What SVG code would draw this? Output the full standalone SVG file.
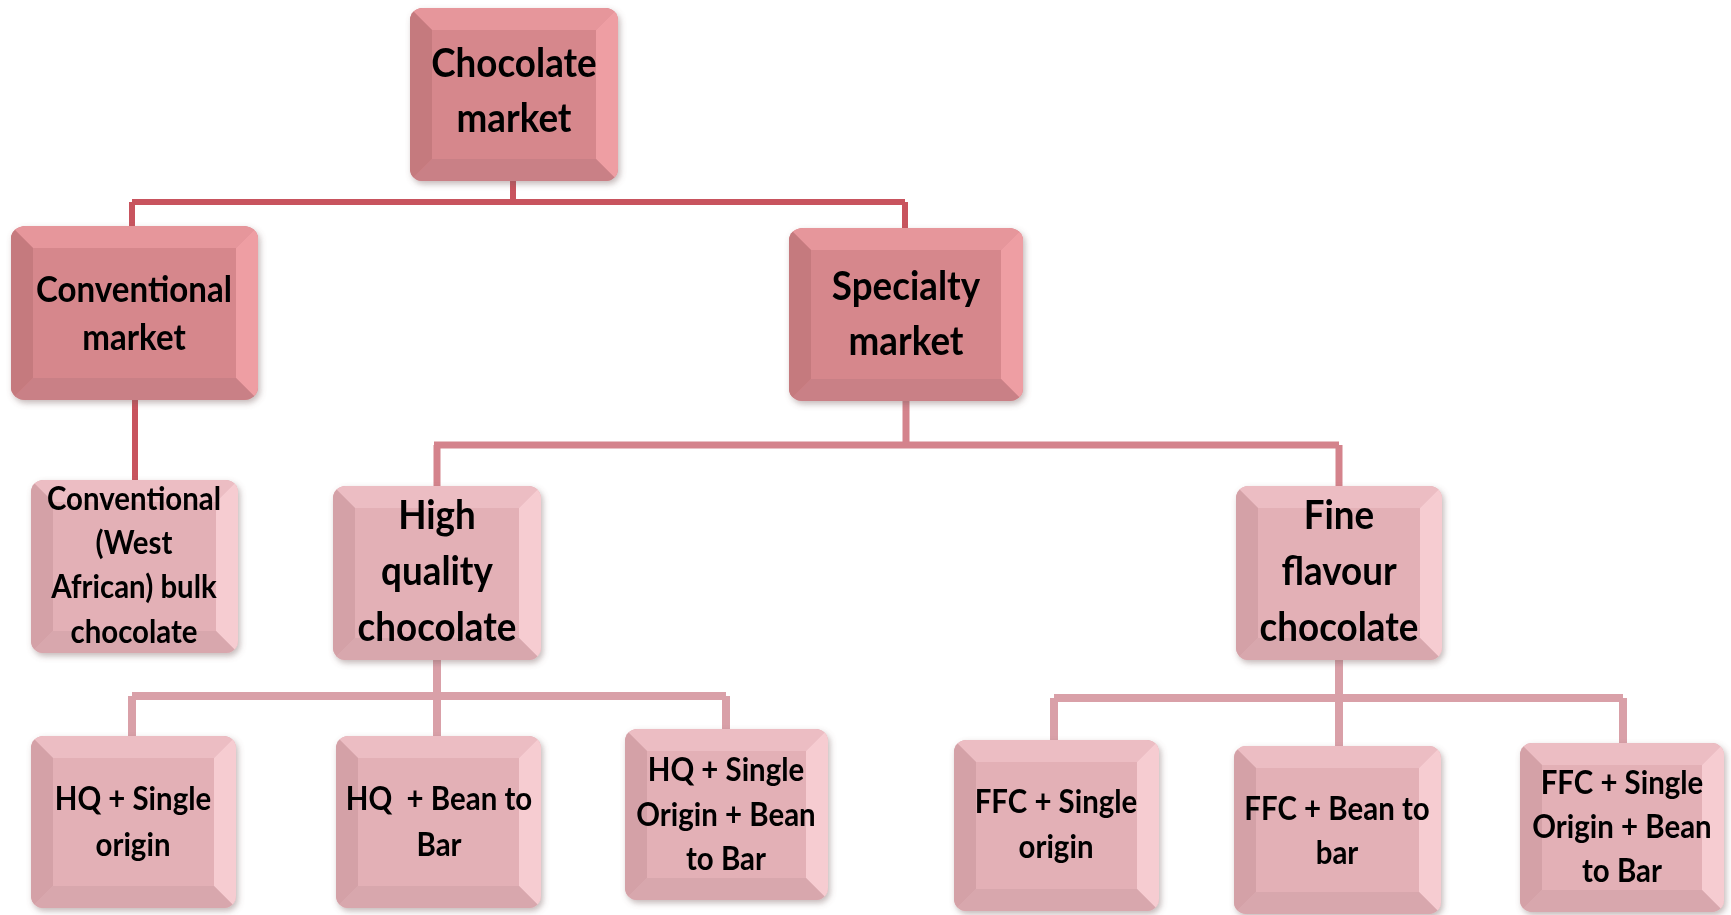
<svg xmlns="http://www.w3.org/2000/svg" width="1731" height="915" viewBox="0 0 1731 915">
<style>
.txt{font-family:Lato,"Liberation Sans",sans-serif;font-weight:bold;fill:#000;text-anchor:middle;transform-box:fill-box;transform-origin:center;transform:scaleX(0.92)}
.f40{font-size:40px}.f36{font-size:36px}.f32{font-size:32px}
.c1{stroke:#c8545e;stroke-width:6;fill:none}
.c2{stroke:#d4838c;stroke-width:7;fill:none}
.c3{stroke:#d9a0a8;stroke-width:8;fill:none}
.r .main{fill:#d6878c}.r .lt{fill:#e6969b}.r .rt{fill:#ee9ea3}.r .dk{fill:#c57a7e}.r .bt{fill:#c98086}
.p .main{fill:#e3b0b6}.p .lt{fill:#ecbdc3}.p .rt{fill:#f6ccd1}.p .dk{fill:#d4a1a7}.p .bt{fill:#d8a7ad}
.node{filter:url(#sh)}
</style>
<defs>
<clipPath id="rc" clipPathUnits="objectBoundingBox"><rect width="1" height="1" rx="0.06" ry="0.07"/></clipPath>
<filter id="sh" x="-10%" y="-10%" width="125%" height="125%"><feDropShadow dx="2" dy="3" stdDeviation="3" flood-color="#7a6060" flood-opacity="0.45"/></filter>
</defs>
<rect width="1731" height="915" fill="#fff"/>
<g id="connectors">
<path class="c1" d="M513 181V202M132 202H905M132 202V226M905 202V228"/>
<path class="c1" d="M135 400V480"/>
<path class="c2" d="M906 401V445M434 445H1339M437 445V486M1339 445V486"/>
<path class="c3" d="M437 660V696M132 696H726M132 696V736M437 696V736M726 696V729"/>
<path class="c3" d="M1339 660V698M1054 698H1623M1054 698V740M1339 698V746M1623 698V743"/>
</g>
<g id="n-chocolate" class="node r"><g clip-path="url(#rc)">
<rect class="main" x="410" y="8" width="208" height="173"/>
<polygon class="lt" points="410,8 618,8 596,30 432,30"/>
<polygon class="rt" points="618,8 618,181 596,159 596,30"/>
<polygon class="bt" points="410,181 618,181 596,159 432,159"/>
<polygon class="dk" points="410,8 410,181 432,159 432,30"/>
</g>
<text class="txt f40" x="514" y="77">Chocolate</text><text class="txt f40" x="514" y="132">market</text></g>
<g id="n-conventional" class="node r"><g clip-path="url(#rc)">
<rect class="main" x="11" y="226" width="247" height="174"/>
<polygon class="lt" points="11,226 258,226 236,248 33,248"/>
<polygon class="rt" points="258,226 258,400 236,378 236,248"/>
<polygon class="bt" points="11,400 258,400 236,378 33,378"/>
<polygon class="dk" points="11,226 11,400 33,378 33,248"/>
</g>
<text class="txt f36" x="134" y="302">Conventional</text><text class="txt f36" x="134" y="350">market</text></g>
<g id="n-specialty" class="node r"><g clip-path="url(#rc)">
<rect class="main" x="789" y="228" width="234" height="173"/>
<polygon class="lt" points="789,228 1023,228 1001,250 811,250"/>
<polygon class="rt" points="1023,228 1023,401 1001,379 1001,250"/>
<polygon class="bt" points="789,401 1023,401 1001,379 811,379"/>
<polygon class="dk" points="789,228 789,401 811,379 811,250"/>
</g>
<text class="txt f40" x="906" y="300">Specialty</text><text class="txt f40" x="906" y="355">market</text></g>
<g id="n-bulk" class="node p"><g clip-path="url(#rc)">
<rect class="main" x="31" y="480" width="207" height="173"/>
<polygon class="lt" points="31,480 238,480 216,502 53,502"/>
<polygon class="rt" points="238,480 238,653 216,631 216,502"/>
<polygon class="bt" points="31,653 238,653 216,631 53,631"/>
<polygon class="dk" points="31,480 31,653 53,631 53,502"/>
</g>
<text class="txt f32" x="134" y="510">Conventional</text><text class="txt f32" x="134" y="554">(West</text><text class="txt f32" x="134" y="598">African) bulk</text><text class="txt f32" x="134" y="643">chocolate</text></g>
<g id="n-hq" class="node p"><g clip-path="url(#rc)">
<rect class="main" x="333" y="486" width="208" height="174"/>
<polygon class="lt" points="333,486 541,486 519,508 355,508"/>
<polygon class="rt" points="541,486 541,660 519,638 519,508"/>
<polygon class="bt" points="333,660 541,660 519,638 355,638"/>
<polygon class="dk" points="333,486 333,660 355,638 355,508"/>
</g>
<text class="txt f40" x="437" y="529">High</text><text class="txt f40" x="437" y="585">quality</text><text class="txt f40" x="437" y="641">chocolate</text></g>
<g id="n-ffc" class="node p"><g clip-path="url(#rc)">
<rect class="main" x="1236" y="486" width="206" height="174"/>
<polygon class="lt" points="1236,486 1442,486 1420,508 1258,508"/>
<polygon class="rt" points="1442,486 1442,660 1420,638 1420,508"/>
<polygon class="bt" points="1236,660 1442,660 1420,638 1258,638"/>
<polygon class="dk" points="1236,486 1236,660 1258,638 1258,508"/>
</g>
<text class="txt f40" x="1339" y="529">Fine</text><text class="txt f40" x="1339" y="585">flavour</text><text class="txt f40" x="1339" y="641">chocolate</text></g>
<g id="n-hq-so" class="node p"><g clip-path="url(#rc)">
<rect class="main" x="31" y="736" width="205" height="172"/>
<polygon class="lt" points="31,736 236,736 214,758 53,758"/>
<polygon class="rt" points="236,736 236,908 214,886 214,758"/>
<polygon class="bt" points="31,908 236,908 214,886 53,886"/>
<polygon class="dk" points="31,736 31,908 53,886 53,758"/>
</g>
<text class="txt f32" x="133" y="810">HQ + Single</text><text class="txt f32" x="133" y="856">origin</text></g>
<g id="n-hq-btb" class="node p"><g clip-path="url(#rc)">
<rect class="main" x="336" y="736" width="205" height="172"/>
<polygon class="lt" points="336,736 541,736 519,758 358,758"/>
<polygon class="rt" points="541,736 541,908 519,886 519,758"/>
<polygon class="bt" points="336,908 541,908 519,886 358,886"/>
<polygon class="dk" points="336,736 336,908 358,886 358,758"/>
</g>
<text class="txt f32" x="439" y="810" xml:space="preserve">HQ  + Bean to</text><text class="txt f32" x="439" y="856">Bar</text></g>
<g id="n-hq-so-btb" class="node p"><g clip-path="url(#rc)">
<rect class="main" x="625" y="729" width="203" height="171"/>
<polygon class="lt" points="625,729 828,729 806,751 647,751"/>
<polygon class="rt" points="828,729 828,900 806,878 806,751"/>
<polygon class="bt" points="625,900 828,900 806,878 647,878"/>
<polygon class="dk" points="625,729 625,900 647,878 647,751"/>
</g>
<text class="txt f32" x="726" y="781">HQ + Single</text><text class="txt f32" x="726" y="826">Origin + Bean</text><text class="txt f32" x="726" y="870">to Bar</text></g>
<g id="n-ffc-so" class="node p"><g clip-path="url(#rc)">
<rect class="main" x="954" y="740" width="205" height="171"/>
<polygon class="lt" points="954,740 1159,740 1137,762 976,762"/>
<polygon class="rt" points="1159,740 1159,911 1137,889 1137,762"/>
<polygon class="bt" points="954,911 1159,911 1137,889 976,889"/>
<polygon class="dk" points="954,740 954,911 976,889 976,762"/>
</g>
<text class="txt f32" x="1056" y="813">FFC + Single</text><text class="txt f32" x="1056" y="858">origin</text></g>
<g id="n-ffc-btb" class="node p"><g clip-path="url(#rc)">
<rect class="main" x="1234" y="746" width="207" height="168"/>
<polygon class="lt" points="1234,746 1441,746 1419,768 1256,768"/>
<polygon class="rt" points="1441,746 1441,914 1419,892 1419,768"/>
<polygon class="bt" points="1234,914 1441,914 1419,892 1256,892"/>
<polygon class="dk" points="1234,746 1234,914 1256,892 1256,768"/>
</g>
<text class="txt f32" x="1337" y="820">FFC + Bean to</text><text class="txt f32" x="1337" y="864">bar</text></g>
<g id="n-ffc-so-btb" class="node p"><g clip-path="url(#rc)">
<rect class="main" x="1520" y="743" width="204" height="169"/>
<polygon class="lt" points="1520,743 1724,743 1702,765 1542,765"/>
<polygon class="rt" points="1724,743 1724,912 1702,890 1702,765"/>
<polygon class="bt" points="1520,912 1724,912 1702,890 1542,890"/>
<polygon class="dk" points="1520,743 1520,912 1542,890 1542,765"/>
</g>
<text class="txt f32" x="1622" y="794">FFC + Single</text><text class="txt f32" x="1622" y="838">Origin + Bean</text><text class="txt f32" x="1622" y="882">to Bar</text></g>
</svg>
